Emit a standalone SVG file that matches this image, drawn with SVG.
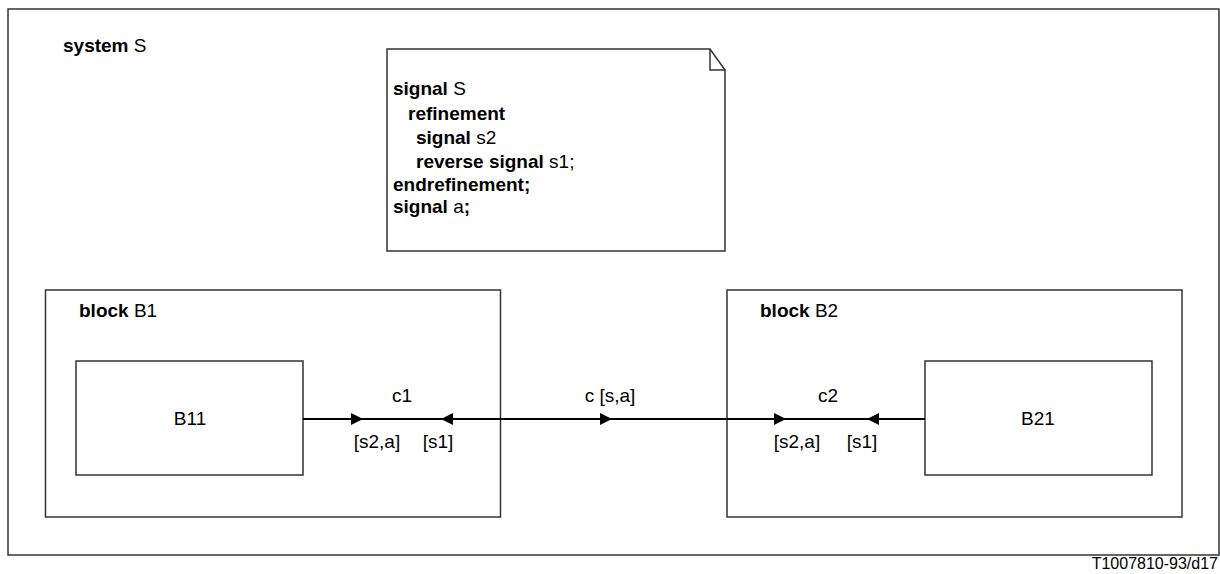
<svg xmlns="http://www.w3.org/2000/svg" width="1220" height="574" viewBox="0 0 1220 574">
<style>
.box{fill:none;stroke:#333;stroke-width:1.5}
.note{fill:#fff;stroke:#333;stroke-width:1.5}
.conn{stroke:#000;stroke-width:2;fill:none}
.ah{fill:#000}
text{font-family:"Liberation Sans",Arial,sans-serif;font-size:19px;fill:#000}
.b{font-weight:bold}
.mid{text-anchor:middle}
.id{font-size:16px;text-anchor:end}
</style>
<rect width="1220" height="574" fill="#fff"/>
<g id="system">
<rect class="box" x="8" y="9" width="1211" height="546"/>
<text x="63" y="52"><tspan class="b">system</tspan> S</text>
</g>
<g id="note">
<path class="note" d="M387,49 H710 L725,70 V251 H387 Z"/>
<path class="box" d="M710,49 V70 H725"/>
<text x="393" y="95"><tspan class="b">signal</tspan> S</text>
<text x="408" y="120" class="b">refinement</text>
<text x="416" y="144"><tspan class="b">signal</tspan> s2</text>
<text x="416" y="168"><tspan class="b">reverse signal</tspan> s1;</text>
<text x="393" y="191" class="b">endrefinement;</text>
<text x="393" y="213"><tspan class="b">signal</tspan> a<tspan class="b">;</tspan></text>
</g>
<g id="B1">
<rect class="box" x="45.5" y="290" width="455" height="227"/>
<text x="79" y="317"><tspan class="b">block</tspan> B1</text>
</g>
<g id="B11">
<rect class="box" x="76" y="361" width="227" height="114"/>
<text class="mid" x="190" y="425">B11</text>
</g>
<g id="B2">
<rect class="box" x="727" y="290" width="455" height="227"/>
<text x="760" y="317"><tspan class="b">block</tspan> B2</text>
</g>
<g id="B21">
<rect class="box" x="925" y="361" width="227" height="114"/>
<text class="mid" x="1038" y="425">B21</text>
</g>
<g id="connectors">
<line class="conn" x1="303" y1="419" x2="925" y2="419"/>
<path class="ah" d="M351,413 L363,419 L351,425 Z"/>
<path class="ah" d="M453,413 L441,419 L453,425 Z"/>
<path class="ah" d="M600,413 L612,419 L600,425 Z"/>
<path class="ah" d="M774,413 L786,419 L774,425 Z"/>
<path class="ah" d="M879,413 L867,419 L879,425 Z"/>
<text class="mid" x="402" y="402">c1</text>
<text class="mid" x="377" y="448">[s2,a]</text>
<text class="mid" x="438" y="448">[s1]</text>
<text class="mid" x="610" y="402">c [s,a]</text>
<text class="mid" x="828" y="402">c2</text>
<text class="mid" x="797" y="448">[s2,a]</text>
<text class="mid" x="862" y="448">[s1]</text>
</g>
<text class="id" x="1218" y="569">T1007810-93/d17</text>
</svg>
